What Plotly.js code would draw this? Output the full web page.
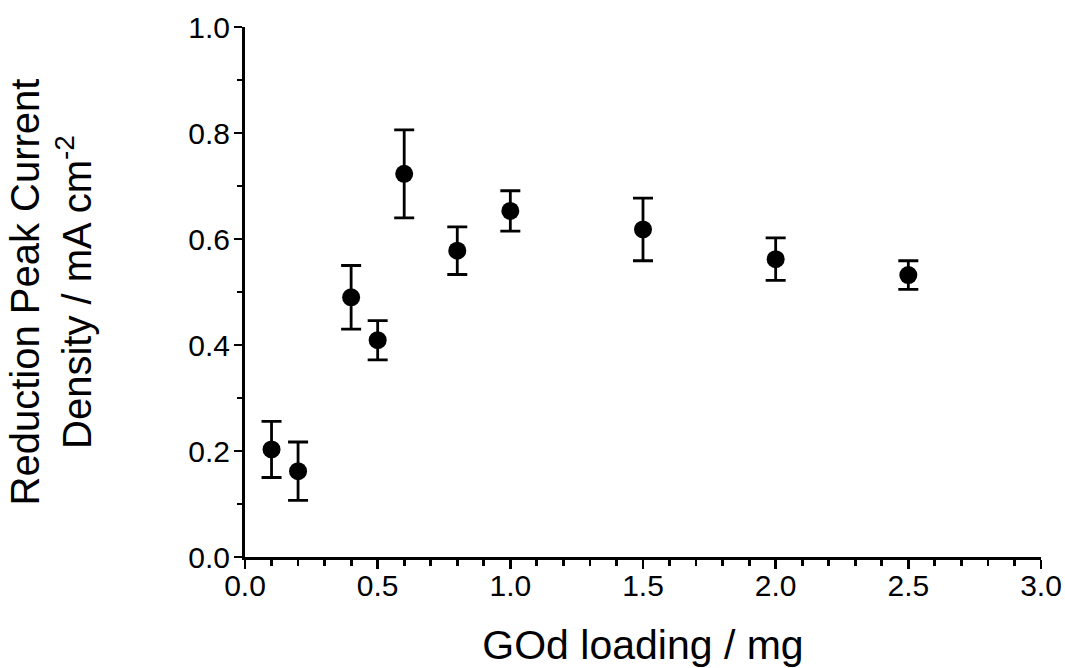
<!DOCTYPE html>
<html>
<head>
<meta charset="utf-8">
<script src="https://cdn.plot.ly/plotly-3.0.1.min.js"></script>
<style>
html,body{margin:0;padding:0;background:#fff;}
#chart{width:1065px;height:668px;}
</style>
</head>
<body>
<div id="chart"></div>
<script>
var loading = [0.1, 0.2, 0.4, 0.5, 0.6, 0.8, 1.0, 1.5, 2.0, 2.5];
var currentDensity = [0.203, 0.162, 0.490, 0.409, 0.723, 0.578, 0.653, 0.618, 0.562, 0.532];
var errorBars = [0.053, 0.055, 0.060, 0.037, 0.083, 0.045, 0.038, 0.059, 0.040, 0.027];
var xTickVals = [0, 0.5, 1.0, 1.5, 2.0, 2.5, 3.0];
var xTickText = ['0.0', '0.5', '1.0', '1.5', '2.0', '2.5', '3.0'];
var yTickVals = [0, 0.2, 0.4, 0.6, 0.8, 1.0];
var yTickText = ['0.0', '0.2', '0.4', '0.6', '0.8', '1.0'];

var font = 'Liberation Sans, Arial, Helvetica, sans-serif';

var trace = {
  x: loading,
  y: currentDensity,
  type: 'scatter',
  mode: 'markers',
  marker: {color: '#000', size: 18, symbol: 'circle'},
  error_y: {type: 'data', array: errorBars, visible: true, color: '#000', thickness: 2.8, width: 10},
  cliponaxis: false,
  showlegend: false
};

var layout = {
  width: 1065,
  height: 668,
  margin: {l: 245, r: 24, t: 27, b: 111, pad: 0},
  paper_bgcolor: '#fff',
  plot_bgcolor: '#fff',
  font: {family: font, color: '#000'},
  xaxis: {
    range: [0, 3],
    tickmode: 'array',
    tickvals: xTickVals,
    ticktext: xTickText,
    ticks: 'outside',
    ticklen: 9,
    tickwidth: 2.8,
    tickcolor: '#000',
    ticklabelstandoff: -9,
    showline: true,
    linecolor: '#000',
    linewidth: 3,
    showgrid: false,
    zeroline: false,
    tickfont: {size: 30, family: font, color: '#000'},
    minor: {dtick: 0.1, tick0: 0, ticks: 'outside', ticklen: 6, tickwidth: 2.8, tickcolor: '#000', showgrid: false},
    title: {text: 'GOd loading / mg', font: {size: 41, family: font, color: '#000'}, standoff: 30},
    automargin: false
  },
  yaxis: {
    range: [0, 1],
    tickmode: 'array',
    tickvals: yTickVals,
    ticktext: yTickText,
    ticks: 'outside',
    ticklen: 8,
    tickwidth: 2.8,
    tickcolor: '#000',
    ticklabelstandoff: -2,
    showline: true,
    linecolor: '#000',
    linewidth: 3,
    showgrid: false,
    zeroline: false,
    tickfont: {size: 30, family: font, color: '#000'},
    minor: {dtick: 0.1, tick0: 0, ticks: 'outside', ticklen: 5, tickwidth: 2.8, tickcolor: '#000', showgrid: false},
    title: {text: 'Reduction Peak Current<br>Density / mA cm<sup>-2</sup>', font: {size: 40, family: font, color: '#000'}, standoff: 85},
    automargin: false
  }
};

Plotly.newPlot('chart', [trace], layout, {displayModeBar: false, staticPlot: true});
</script>
</body>
</html>
